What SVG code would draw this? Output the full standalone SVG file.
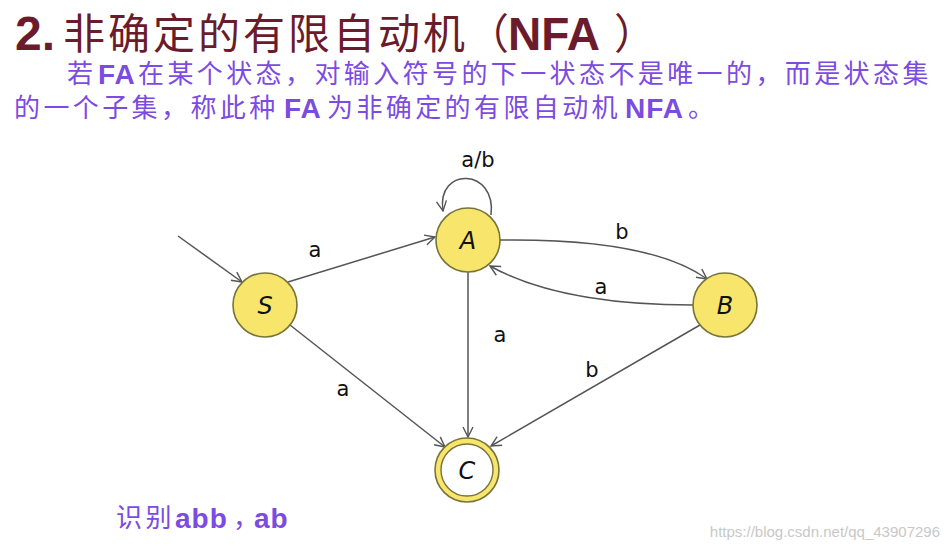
<svg xmlns="http://www.w3.org/2000/svg" width="949" height="550" viewBox="0 0 949 550">
<style>
.title{font-family:"Noto Sans CJK SC","Liberation Sans",sans-serif;font-size:42px;fill:#6b1c2c}
.para{font-family:"Noto Sans CJK SC","Liberation Sans",sans-serif;font-size:26px;fill:#7b4be2;letter-spacing:3.4px}
.lat{font-family:"Liberation Sans",sans-serif;font-weight:bold;font-size:28px;letter-spacing:1px}
.node{fill:#f7e66b;stroke:#77733a;stroke-width:1.6}
.nl{font-family:"DejaVu Sans","Liberation Sans",sans-serif;font-size:24px;fill:#111;text-anchor:middle;font-style:oblique}
.el{font-family:"DejaVu Sans","Liberation Sans",sans-serif;font-size:21px;fill:#111;text-anchor:middle}
.edge{fill:none;stroke:#555;stroke-width:1.5;marker-end:url(#arr)}
</style>
<defs>
<marker id="arr" viewBox="0 0 12 12" refX="11" refY="6" markerWidth="12" markerHeight="12" markerUnits="userSpaceOnUse" orient="auto">
<path d="M1,1 L11,6 L1,11" fill="none" stroke="#555" stroke-width="1.4"/>
</marker>
</defs>
<rect width="949" height="550" fill="#ffffff"/>
<g id="title">
<text x="15" y="50" font-family="Liberation Sans,sans-serif" font-weight="bold" font-size="48" fill="#6b1c2c">2.</text>
<text class="title" x="63" y="49" letter-spacing="3">非确定的有限自动机</text>
<text class="title" x="467" y="49">（</text>
<text x="508" y="50" font-family="Liberation Sans,sans-serif" font-weight="bold" font-size="46" fill="#6b1c2c">NFA</text>
<text class="title" x="614" y="49">）</text>
</g>
<g id="paragraph">
<text class="para" x="67" y="83">若</text>
<text class="para lat" x="98" y="84">FA</text>
<text class="para" x="138" y="83">在某个状态，对输入符号的下一状态不是唯一的，而是状态集</text>
<text class="para" x="14" y="117">的一个子集，称此种</text>
<text class="para lat" x="284" y="118">FA</text>
<text class="para" x="327" y="117">为非确定的有限自动机</text>
<text class="para lat" x="625" y="118">NFA</text>
<text class="para" x="688" y="117">。</text>
</g>
<g id="connectors">
<path class="edge" d="M178 236 L242 282"/>
<path class="edge" d="M288 282 L435 237"/>
<path class="edge" d="M491 215 C497 168 436 166 443 211"/>
<path class="edge" d="M500 240 Q650 238 707 279"/>
<path class="edge" d="M693 305 Q560 305 490 266"/>
<path class="edge" d="M468 272 L468 437"/>
<path class="edge" d="M290 325 L445 447"/>
<path class="edge" d="M700 325 L491 446"/>
<text class="el" x="315" y="257">a</text>
<text class="el" x="478" y="167">a/b</text>
<text class="el" x="622" y="239">b</text>
<text class="el" x="601" y="294">a</text>
<text class="el" x="500" y="342">a</text>
<text class="el" x="343" y="396">a</text>
<text class="el" x="592" y="377">b</text>
</g>
<g id="S"><circle class="node" cx="265" cy="305" r="32"/><text class="nl" x="265" y="314">S</text></g>
<g id="A"><circle class="node" cx="468" cy="240" r="32"/><text class="nl" x="468" y="249">A</text></g>
<g id="B"><circle class="node" cx="725" cy="305" r="32"/><text class="nl" x="725" y="314">B</text></g>
<g id="C"><circle class="node" cx="467" cy="470" r="32"/><circle cx="467" cy="470" r="26" fill="#fff" stroke="#77733a" stroke-width="1.4"/><text class="nl" x="467" y="479">C</text></g>
<g id="note">
<text class="para" x="116" y="527">识别</text>
<text class="lat" x="175" y="528" font-size="30" letter-spacing="3" fill="#7b4be2">abb</text>
<text class="para" x="233" y="527" letter-spacing="0">，</text>
<text class="lat" x="254" y="528" font-size="30" letter-spacing="3" fill="#7b4be2">ab</text>
</g>
<text x="940" y="537" text-anchor="end" font-family="Liberation Sans Narrow,Liberation Sans,sans-serif" font-size="15" fill="#c8c8c8">https://blog.csdn.net/qq_43907296</text>
</svg>
